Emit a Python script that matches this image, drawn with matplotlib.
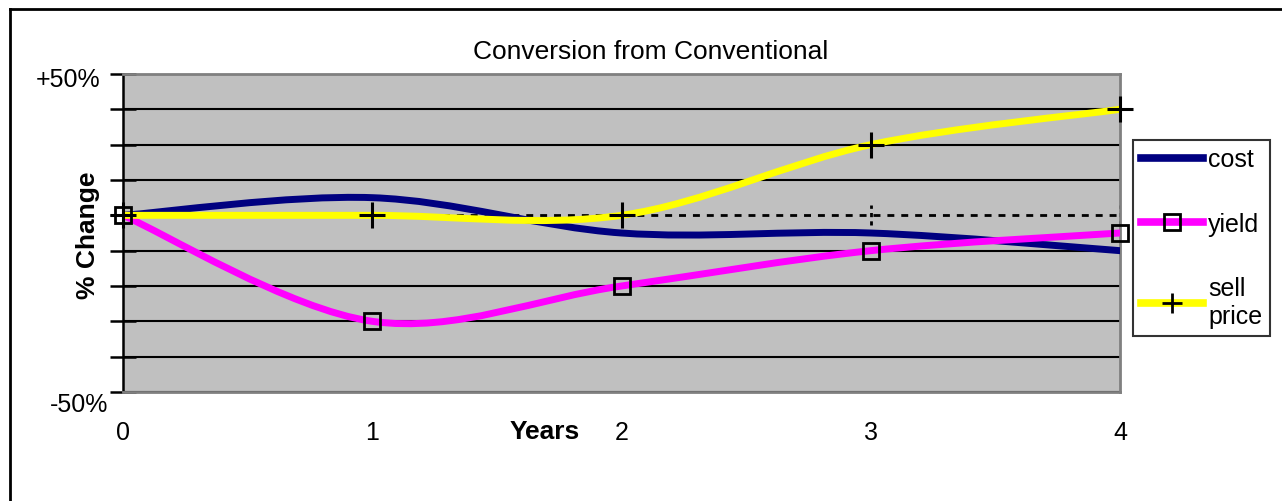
import numpy as np
import matplotlib
matplotlib.use('agg')
import matplotlib.pyplot as plt
from matplotlib.path import Path
from matplotlib.patches import PathPatch
from matplotlib.lines import Line2D

plt.rcParams['font.family'] = ['Liberation Sans', 'DejaVu Sans']

# data (% change vs year)
years = [0, 1, 2, 3, 4]
cost = [0, 5, -5, -5, -10]
yld = [0, -30, -20, -10, -5]
sell_price = [0, 0, 0, 20, 30]
series_names = ['cost', 'yield', 'sell\nprice']
y_end_labels = ['+50%', '-50%']


def smooth_path(x, y):
	# excel style smoothed line: bezier segments through the points
	pts = np.column_stack([x, y]).astype(float)
	n = len(pts)
	verts = [pts[0]]
	codes = [Path.MOVETO]
	for i in range(n - 1):
		p0 = pts[max(i - 1, 0)]
		p1 = pts[i]
		p2 = pts[i + 1]
		p3 = pts[min(i + 2, n - 1)]
		verts += [p1 + (p2 - p0) / 6, p2 - (p3 - p1) / 6, p2]
		codes += [Path.CURVE4] * 3
	return Path(verts, codes)


W, H = 1282, 502
fig = plt.figure(figsize=(W / 100, H / 100), dpi=100)
ax = fig.add_axes([123 / W, 109 / H, 997 / W, 318 / H])
ax.set_facecolor('#C0C0C0')
ax.set_xlim(0, 4)
ax.set_ylim(-50, 40)

ax.set_yticks(np.arange(-50, 41, 10))
ax.set_yticklabels([])
ax.set_xticks(years)
ax.set_xticklabels([str(y) for y in years], fontsize=18)
ax.tick_params(axis='y', direction='inout', length=19, width=1.8, color='black')
ax.tick_params(axis='x', length=0, pad=20)
ax.grid(axis='y', color='black', linewidth=1.5)
ax.get_ygridlines()[5].set_visible(False)
ax.set_axisbelow(True)

for s in ['top', 'right', 'bottom']:
	ax.spines[s].set_color('#808080')
	ax.spines[s].set_linewidth(2)
ax.spines['left'].set_color('black')
ax.spines['left'].set_linewidth(1.8)

# dotted zero axis with its small ticks
ax.axhline(0, color='black', linewidth=2, linestyle=(0, (2.5, 2.5)), zorder=1.5)
for yr in years[1:]:
	ax.plot([yr, yr], [-2.8, 2.8], color='black', linewidth=2, linestyle=(0, (1.5, 1.5)), zorder=1.5)

colors = ['#000080', '#FF00FF', '#FFFF00']
data = [cost, yld, sell_price]
for vals, c in zip(data, colors):
	ax.add_patch(PathPatch(smooth_path(years, vals), facecolor='none', edgecolor=c,
		linewidth=5, capstyle='round', zorder=3))

ax.plot(years, yld, linestyle='none', marker='s', markersize=12, markerfacecolor='none',
	markeredgecolor='black', markeredgewidth=2, zorder=5, clip_on=False)
ax.plot(years, sell_price, linestyle='none', marker='+', markersize=19,
	markeredgecolor='black', markeredgewidth=2.2, zorder=5, clip_on=False)

ax.text(-0.092, 38.6, y_end_labels[0], ha='right', va='center', fontsize=18)
ax.text(-0.06, -53.4, y_end_labels[1], ha='right', va='center', fontsize=18, clip_on=False)

fig.text(545 / W, 1 - 432 / H, 'Years', ha='center', va='center', fontsize=19, fontweight='bold')
fig.text(88 / W, 1 - 235 / H, '% Change', ha='center', va='center', fontsize=19,
	fontweight='bold', rotation=90)
fig.text(651 / W, 1 - 52 / H, 'Conversion from Conventional', ha='center', va='center', fontsize=19)

handles = [
	Line2D([], [], color=colors[0], linewidth=5.5),
	Line2D([], [], color=colors[1], linewidth=5.5, marker='s', markersize=11,
		markerfacecolor='none', markeredgecolor='black', markeredgewidth=2),
	Line2D([], [], color=colors[2], linewidth=5.5, marker='+', markersize=15,
		markeredgecolor='black', markeredgewidth=2),
]
leg = fig.legend(handles, series_names, loc='upper left', bbox_to_anchor=(1133 / W, 1 - 141 / H),
	fontsize=18, frameon=True, fancybox=False, edgecolor='black', handlelength=2.5,
	handletextpad=0.2, labelspacing=1.62, borderpad=0.3, borderaxespad=0)
leg.get_frame().set_linewidth(1.5)

# outer chart border (left and top edges visible)
fig.add_artist(Line2D([10 / W, 10 / W], [0, 1 - 10 / H], color='black', linewidth=2))
fig.add_artist(Line2D([10 / W, 1], [1 - 10 / H, 1 - 10 / H], color='black', linewidth=2))

fig.savefig('out.png', dpi=100)
